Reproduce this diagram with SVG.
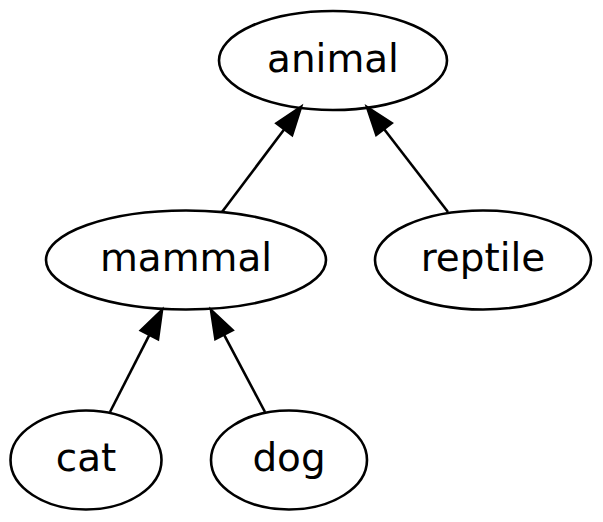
<svg xmlns="http://www.w3.org/2000/svg" width="603" height="522" viewBox="0 0 603 522">
<style>
.node ellipse{fill:none;stroke:#000;stroke-width:2.6}
.node text{font-family:"DejaVu Sans",sans-serif;font-size:38.9px;text-anchor:middle;fill:#000}
.edge line{stroke:#000;stroke-width:2.6}
.edge polygon{fill:#000;stroke:#000;stroke-width:2.6}
</style>
<rect width="603" height="522" fill="#fff"/>
<g id="edges">
<g class="edge"><line x1="222" y1="212" x2="284.3" y2="129.2"/><polygon points="301,107 292.1,135 276.5,123.4"/></g>
<g class="edge"><line x1="448" y1="212" x2="384" y2="129"/><polygon points="367,107 391.7,123.1 376.3,134.9"/></g>
<g class="edge"><line x1="110" y1="412" x2="149.4" y2="334.8"/><polygon points="162,310 158,339.2 140.8,330.4"/></g>
<g class="edge"><line x1="265" y1="412" x2="224" y2="334.6"/><polygon points="211,310 232.6,330.1 215.4,339.1"/></g>
</g>
<g id="animal" class="node"><ellipse cx="333" cy="60.5" rx="114" ry="49.5"/><text x="333" y="71.5">animal</text></g>
<g id="mammal" class="node"><ellipse cx="186" cy="260" rx="140" ry="49.5"/><text x="186" y="271">mammal</text></g>
<g id="reptile" class="node"><ellipse cx="483" cy="260" rx="108" ry="49.5"/><text x="483" y="271">reptile</text></g>
<g id="cat" class="node"><ellipse cx="86" cy="460" rx="75.5" ry="49.5"/><text x="86" y="471">cat</text></g>
<g id="dog" class="node"><ellipse cx="289" cy="460" rx="78" ry="49.5"/><text x="289" y="471">dog</text></g>
</svg>
